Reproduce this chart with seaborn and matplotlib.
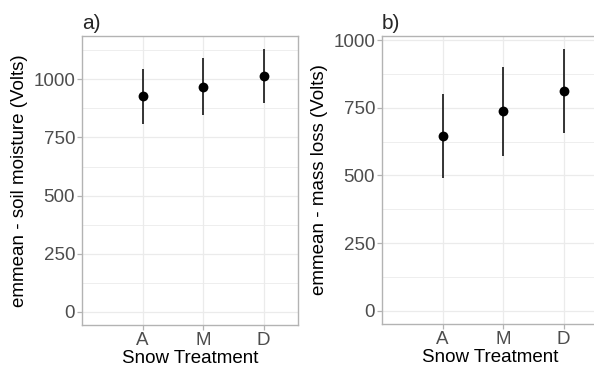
import numpy as np
import pandas as pd
import seaborn as sns
from matplotlib import pyplot as plt

# values
treatments = ['A', 'M', 'D']
soil_mean = [927, 967, 1014]
soil_lower = [810, 845, 898]
soil_upper = [1043, 1091, 1130]
mass_mean = [645, 738, 811]
mass_lower = [490, 573, 655]
mass_upper = [800, 901, 967]

sns.set_theme(style='white')
plt.rcParams['font.family'] = ['Liberation Sans', 'DejaVu Sans']

fig = plt.figure(figsize=(5.94, 3.75), dpi=100)
ax_a = fig.add_axes([82 / 594, 50 / 375, 216 / 594, 289 / 375])
# panel b runs off the right edge of the picture, as in the reference
ax_b = fig.add_axes([382 / 594, 51 / 375, 216 / 594, 288 / 375])

panels = [
    (ax_a, soil_mean, soil_lower, soil_upper, 'emmean - soil moisture (Volts)', 'a)', (-56.5, 1186.5)),
    (ax_b, mass_mean, mass_lower, mass_upper, 'emmean - mass loss (Volts)', 'b)', (-48.4, 1015)),
]

for ax, mean, lower, upper, ylabel, title, ylim in panels:
    df = pd.DataFrame({'treatment': treatments, 'emmean': mean,
                       'lower': lower, 'upper': upper})
    ax.vlines(df['treatment'], df['lower'], df['upper'], color='black', lw=1.1, zorder=3)
    sns.scatterplot(data=df, x='treatment', y='emmean', ax=ax, color='black',
                    s=50, edgecolor='black', linewidth=0, zorder=4)
    ax.set_yticks([0, 250, 500, 750, 1000])
    ax.set_yticks([125, 375, 625, 875, 1125], minor=True)
    ax.set_xticks([0, 1, 2])
    ax.set_xticks([], minor=True)
    ax.set_xticklabels(treatments)
    ax.set_xlim(-1.0, 2.57)
    ax.set_ylim(*ylim)
    ax.grid(True, which='major', color='#EBEBEB', lw=0.9)
    ax.grid(True, which='minor', axis='y', color='#EBEBEB', lw=0.6)
    ax.set_axisbelow(True)
    for sp in ax.spines.values():
        sp.set_color('#B3B3B3')
        sp.set_linewidth(1.0)
    ax.tick_params(axis='both', which='major', length=3.5, width=0.9, color='#B3B3B3',
                   labelsize=13.5, labelcolor='#4D4D4D', pad=1.5, bottom=True, left=True)
    ax.tick_params(which='minor', length=0)
    ax.set_xlabel('Snow Treatment', fontsize=13.5, color='black', labelpad=1)
    ax.set_ylabel(ylabel, fontsize=13.5, color='black', labelpad=4)
    ax.set_title(title, loc='left', fontsize=15, pad=5)

ax_b.spines['right'].set_visible(False)

fig.savefig('out.png', dpi=100)
